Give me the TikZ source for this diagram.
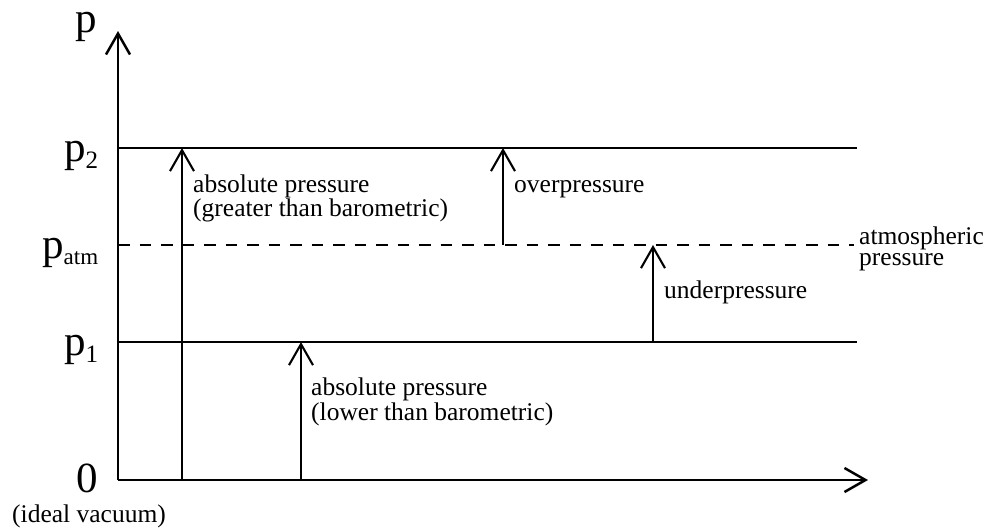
\documentclass[tikz,border=0pt]{standalone}
\usepackage{fontspec}
\setmainfont{Liberation Serif}
\usetikzlibrary{arrows.meta}
\begin{document}
\begin{tikzpicture}[x=1pt,y=-1pt,
  tipbarb/.tip={Straight Barb[length=21pt,width=24pt]},
  axis/.style={line width=2.5pt,-tipbarb},
  level/.style={line width=2.5pt},
  atmline/.style={line width=2.5pt,dash pattern=on 11.5pt off 10pt},
  meas/.style={line width=2.1pt,-tipbarb},
  lbl/.style={font=\fontsize{25.5}{25.5}\selectfont,inner sep=0pt,anchor=base west},
  big/.style={font=\fontsize{43}{43}\selectfont,inner sep=0pt,anchor=base west},
]
\useasboundingbox (0,0) rectangle (989,528);
% coordinates
\coordinate (O) at (118,480);
\coordinate (Ytop) at (118,31);
\coordinate (Xend) at (868,480);
\coordinate (p2L) at (118,148);
\coordinate (p2R) at (857,148);
\coordinate (paL) at (118,245);
\coordinate (paR) at (854,245);
\coordinate (p1L) at (118,342);
\coordinate (p1R) at (857,342);
\coordinate (a1s) at (182,480);
\coordinate (a1e) at (182,148);
\coordinate (a2s) at (301,480);
\coordinate (a2e) at (301,342);
\coordinate (ovs) at (503,245);
\coordinate (ove) at (503,148);
\coordinate (uns) at (653,342);
\coordinate (une) at (653,245);
% axes and levels
\draw[axis] (O) -- (Ytop);
\draw[axis] (O) -- (Xend);
\draw[level] (p2L) -- (p2R);
\draw[atmline] (paL) -- (paR);
\draw[level] (p1L) -- (p1R);
% measurement arrows
\draw[meas] (a1s) -- (a1e);
\draw[meas] (a2s) -- (a2e);
\draw[meas] (ovs) -- (ove);
\draw[meas] (uns) -- (une);
% axis labels
\node[big] (lp) at (75,32) {p};
\node[big] (lp2) at (64,161) {p\raisebox{-7pt}{\fontsize{25}{25}\selectfont 2}};
\node[big] (lpa) at (42,258) {p\raisebox{-6pt}{\fontsize{23}{23}\selectfont atm}};
\node[big] (lp1) at (64,355) {p\raisebox{-7pt}{\fontsize{25}{25}\selectfont 1}};
\node[big,anchor=base east] (l0) at (98,492) {0};
\node[lbl] (lvac) at (12,522) {(ideal vacuum)};
% measurement labels
\node[lbl] (t1a) at (193,192) {absolute pressure};
\node[lbl] (t1b) at (193,216) {(greater than barometric)};
\node[lbl] (tov) at (514,192) {overpressure};
\node[lbl] (tun) at (664,298) {underpressure};
\node[lbl] (t2a) at (311,395) {absolute pressure};
\node[lbl] (t2b) at (311,420) {(lower than barometric)};
\node[lbl,anchor=north west,align=left,font=\fontsize{25.5}{21}\selectfont] (tat) at (859,227) {atmospheric\\pressure};
\end{tikzpicture}
\end{document}
